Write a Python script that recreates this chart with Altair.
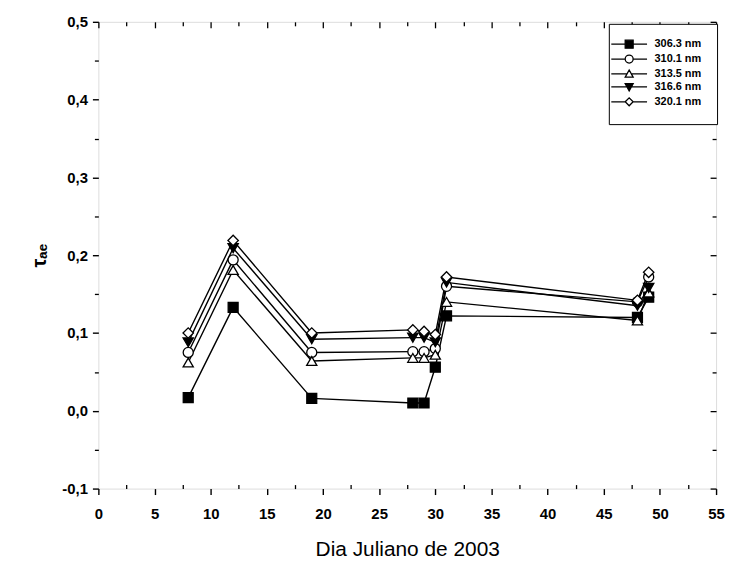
import altair as alt
import pandas as pd

# ---- data ----
days = [8, 12, 19, 28, 29, 30, 31, 48, 49]
series_names = ["306.3 nm", "310.1 nm", "313.5 nm", "316.6 nm", "320.1 nm"]
tau_306 = [0.017, 0.133, 0.016, 0.010, 0.010, 0.056, 0.122, 0.120, 0.146]
tau_310 = [0.075, 0.194, 0.075, 0.076, 0.076, 0.080, 0.160, 0.140, 0.172]
tau_313 = [0.062, 0.181, 0.064, 0.068, 0.068, 0.072, 0.140, 0.116, 0.152]
tau_316 = [0.088, 0.209, 0.092, 0.094, 0.094, 0.088, 0.165, 0.135, 0.158]
tau_320 = [0.100, 0.219, 0.100, 0.104, 0.102, 0.098, 0.172, 0.142, 0.178]

x_major = [0, 5, 10, 15, 20, 25, 30, 35, 40, 45, 50, 55]
x_minor = [2.5, 7.5, 12.5, 17.5, 22.5, 27.5, 32.5, 37.5, 42.5, 47.5, 52.5]
y_major = [-0.1, 0.0, 0.1, 0.2, 0.3, 0.4, 0.5]
y_minor = [-0.05, 0.05, 0.15, 0.25, 0.35, 0.45]

marker_shapes = ["square", "circle", "triangle-up", "triangle-down", "diamond"]
marker_fills = ["black", "white", "white", "black", "white"]
marker_strokes = ["black", "black", "black", "black", "black"]
marker_sizes = [100, 110, 110, 110, 160]
legend_paths = [
    "M-4.5,0H-1M1,0H4.5M-1,-1H1V1H-1Z",
    "M-4.5,0H-1M1,0H4.5M-1,0A1,1,0,1,1,1,0A1,1,0,1,1,-1,0Z",
    "M-4.5,0H-0.55M0.55,0H4.5M0,-1L1,0.8H-1Z",
    "M-4.5,0H-0.55M0.55,0H4.5M0,1L1,-0.8H-1Z",
    "M-4.5,0H-1M1,0H4.5M-1,0L0,-1L1,0L0,1Z",
]

rows = []
for name, vals in zip(series_names, [tau_306, tau_310, tau_313, tau_316, tau_320]):
    for d, v in zip(days, vals):
        rows.append({"day": d, "tau": v, "serie": name})
df = pd.DataFrame(rows)

FONT = "Liberation Sans"
xs = alt.Scale(domain=[0, 55], nice=False, zero=False)
ys = alt.Scale(domain=[-0.1, 0.5], nice=False, zero=False)
comma = "replace(replace(format(datum.value, '.1f'), '.', ','), '\u2212', '-')"


def blank_axis(orient, values, size, offset):
    return alt.Axis(orient=orient, values=values, tickSize=size, tickWidth=1.3,
                    tickColor="black", labels=False, domain=False, grid=False,
                    title=None, offset=offset)


base = alt.Chart(df)

lines = base.mark_line(color="black", strokeWidth=1.4).encode(
    x=alt.X("day:Q", scale=xs, axis=alt.Axis(
        orient="bottom", values=x_major, tickSize=6, tickWidth=1.4, tickColor="black",
        domain=False, grid=False, labelFont=FONT, labelFontSize=15,
        labelFontWeight="bold", labelColor="black", labelPadding=12,
        labelFlush=False, labelOverlap=False,
        title="Dia Juliano de 2003", titleFont=FONT, titleFontSize=21,
        titleFontWeight="normal", titleColor="black", titlePadding=17)),
    y=alt.Y("tau:Q", scale=ys, axis=alt.Axis(
        orient="left", values=y_major, tickSize=6, tickWidth=1.4, tickColor="black",
        domain=False, grid=False, labelFont=FONT, labelFontSize=15,
        labelFontWeight="bold", labelColor="black", labelPadding=5,
        labelExpr=comma, labelFlush=False, labelOverlap=False,
        title="τₐₑ", titleFont=FONT, titleFontSize=20, titleFontWeight="bold",
        titleColor="black", titlePadding=12)),
    detail="serie:N",
)

points = base.mark_point(stroke="black", strokeWidth=1.3, opacity=1).encode(
    x=alt.X("day:Q", scale=xs, axis=blank_axis("bottom", x_minor, 4, -4)),
    y=alt.Y("tau:Q", scale=ys, axis=blank_axis("left", y_minor, 4, 0)),
    shape=alt.Shape("serie:N", scale=alt.Scale(domain=series_names, range=marker_shapes), legend=None),
    fill=alt.Fill("serie:N", scale=alt.Scale(domain=series_names, range=marker_fills), legend=None),
    size=alt.Size("serie:N", scale=alt.Scale(domain=series_names, range=marker_sizes), legend=None),
)

frame_major = base.mark_point(opacity=0).encode(
    x=alt.X("day:Q", scale=xs, axis=blank_axis("top", x_major, 6, -6)),
    y=alt.Y("tau:Q", scale=ys, axis=blank_axis("right", y_major, 6, -6)),
)

frame_minor = base.mark_point(opacity=0).encode(
    x=alt.X("day:Q", scale=xs, axis=blank_axis("top", x_minor, 4, -4)),
    y=alt.Y("tau:Q", scale=ys, axis=blank_axis("right", y_minor, 4, -4)),
)

legend_spec = alt.Legend(
    orient="none", legendX=514, legendY=2, title=None,
    strokeColor="black", fillColor="white", padding=15,
    labelFont=FONT, labelFontSize=11, labelFontWeight="bold",
    labelColor="black", labelOffset=20, symbolSize=64,
    symbolStrokeWidth=1.3, symbolStrokeColor="black",
    rowPadding=0, cornerRadius=0)

legend_layer = base.transform_filter("datum.day < -1000").mark_point(
    strokeWidth=1.3, size=64, opacity=1
).encode(
    x=alt.X("day:Q", scale=xs, axis=None),
    y=alt.Y("tau:Q", scale=ys, axis=None),
    shape=alt.Shape("serie:N", scale=alt.Scale(domain=series_names, range=legend_paths),
                    legend=legend_spec),
    fill=alt.Fill("serie:N", scale=alt.Scale(domain=series_names, range=marker_fills),
                  legend=legend_spec),
    stroke=alt.Stroke("serie:N", scale=alt.Scale(domain=series_names, range=marker_strokes),
                      legend=legend_spec),
)

chart = alt.layer(lines, points, frame_major, frame_minor, legend_layer).resolve_scale(
    shape="independent", fill="independent", size="independent", stroke="independent"
).resolve_axis(
    x="independent", y="independent"
).resolve_legend(
    shape="independent", fill="independent", size="independent", stroke="independent"
).properties(
    width=622, height=470,
    autosize=alt.AutoSizeParams(type="none"),
    padding={"left": 91, "top": 12, "right": 10, "bottom": 72},
).configure_view(
    stroke="black", strokeWidth=1.5
).configure(background="white")

chart.save("out.html", embed_options={"renderer": "svg", "actions": False})
